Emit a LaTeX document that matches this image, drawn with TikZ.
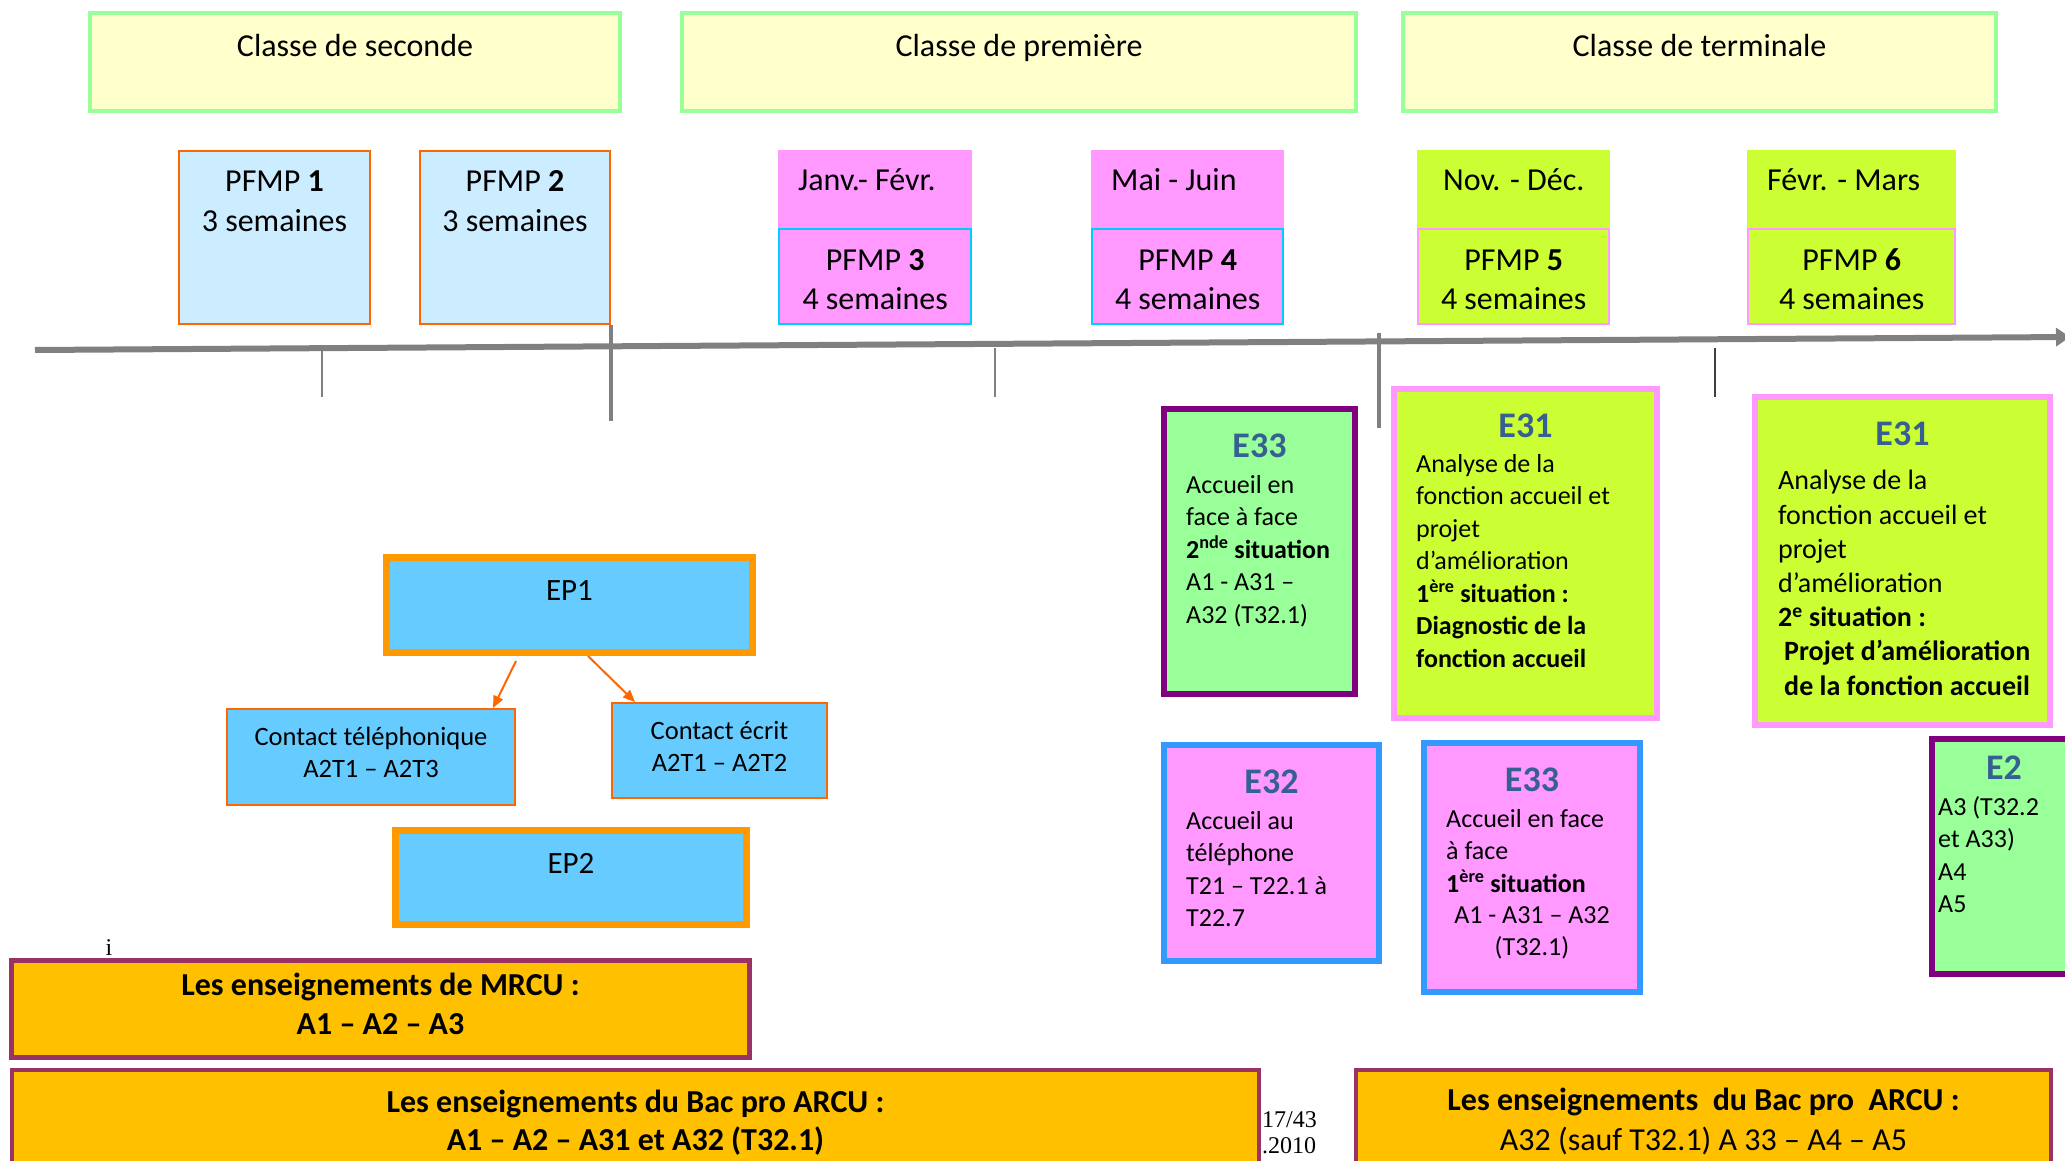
\documentclass[tikz,border=0pt]{standalone}
\usepackage{fontspec}
\setmainfont{Carlito}
\newfontfamily\pagefont{Liberation Serif}
\usetikzlibrary{arrows.meta, positioning}

\definecolor{classfill}{HTML}{FFFFCC}
\definecolor{classline}{HTML}{99FF99}
\definecolor{pfmpfill}{HTML}{CCECFF}
\definecolor{pfmpline}{HTML}{FF6600}
\definecolor{pinkfill}{HTML}{FF99FF}
\definecolor{cyanline}{HTML}{00CCFF}
\definecolor{limefill}{HTML}{CCFF33}
\definecolor{greenfill}{HTML}{99FF99}
\definecolor{purpleline}{HTML}{800080}
\definecolor{blueline}{HTML}{3399FF}
\definecolor{epfill}{HTML}{66CCFF}
\definecolor{epline}{HTML}{FF9900}
\definecolor{goldfill}{HTML}{FFC000}
\definecolor{maroonline}{HTML}{993366}
\definecolor{etitle}{HTML}{376092}
\definecolor{axisgray}{HTML}{808080}

\begin{document}
\begin{tikzpicture}[x=1pt, y=-1pt,
  box/.style={rectangle, anchor=north west, inner sep=0pt},
  class box/.style={box, draw=classline, fill=classfill, line width=4pt, minimum height=98pt},
  pfmp box/.style={box, draw=pfmpline, fill=pfmpfill, line width=2pt},
  month box/.style={box, fill=#1, minimum height=78pt},
  e box/.style={box, line width=6pt},
  ep box/.style={box, draw=epline, fill=epfill, line width=7pt},
  contact box/.style={box, draw=pfmpline, fill=epfill, line width=2pt},
  teach box/.style={box, draw=maroonline, fill=goldfill, line width=4pt},
  big text/.style={font=\fontsize{32}{39.5}\selectfont, inner sep=0pt, anchor=base, align=center},
  e title/.style={font=\fontsize{36}{44}\selectfont\bfseries, text=etitle, inner sep=0pt, anchor=base},
  e text/.style={font=\fontsize{26}{32.5}\selectfont, inner sep=0pt, anchor=base west, align=left},
  small text/.style={font=\fontsize{26.5}{32}\selectfont, inner sep=0pt, anchor=base, align=center},
  page text/.style={font=\pagefont\fontsize{24}{26}\selectfont, inner sep=0pt, anchor=base},
  axis line/.style={draw=axisgray, line width=6pt, -{Triangle[length=14pt,width=18pt]}},
  thin tick/.style={draw=axisgray, line width=1.5pt},
  thick tick/.style={draw=axisgray, line width=4.5pt},
  dark tick/.style={draw=black!75, line width=2pt},
  ep arrow/.style={draw=pfmpline, line width=2pt, -{Triangle[length=12pt,width=10pt]}}
]
  \useasboundingbox (0,0) rectangle (2065,1161);

  % school years
  \node[class box, minimum width=530pt] (seconde) at (88,11) {};
  \node[class box, minimum width=674pt] (premiere) at (680,11) {};
  \node[class box, minimum width=593pt] (terminale) at (1401,11) {};
  \node[big text] (seconde-t) at ([yshift=-46pt]seconde.north) {Classe de seconde};
  \node[big text] (premiere-t) at ([yshift=-46pt]premiere.north) {Classe de première};
  \node[big text] (terminale-t) at ([yshift=-46pt]terminale.north) {Classe de terminale};

  % PFMP periods
  \node[pfmp box, minimum width=191pt, minimum height=173pt] (pfmp1) at (178,150) {};
  \node[pfmp box, minimum width=190pt, minimum height=173pt] (pfmp2) at (419,150) {};
  \node[month box=pinkfill, minimum width=194pt] (janv) at (778,150) {};
  \node[month box=pinkfill, minimum width=193pt] (mai) at (1091,150) {};
  \node[month box=limefill, minimum width=193pt] (nov) at (1417,150) {};
  \node[month box=limefill, minimum width=209pt] (fevr) at (1747,150) {};
  \node[pfmp box, draw=cyanline, fill=pinkfill, minimum width=192pt, minimum height=95pt, below=0pt of janv] (pfmp3) {};
  \node[pfmp box, draw=cyanline, fill=pinkfill, minimum width=191pt, minimum height=95pt, below=0pt of mai] (pfmp4) {};
  \node[pfmp box, draw=pinkfill, fill=limefill, minimum width=191pt, minimum height=95pt, below=0pt of nov] (pfmp5) {};
  \node[pfmp box, draw=pinkfill, fill=limefill, minimum width=207pt, minimum height=95pt, below=0pt of fevr] (pfmp6) {};

  \node[big text] (pfmp1-t) at ([yshift=-81.5pt]pfmp1.north) {PFMP \textbf{1}\\3 semaines};
  \node[big text] (pfmp2-t) at ([yshift=-81.5pt]pfmp2.north) {PFMP \textbf{2}\\3 semaines};
  \node[big text, anchor=base west] (janv-t) at ([xshift=20pt,yshift=-41pt]janv.north west) {Janv.- Févr.};
  \node[big text, anchor=base west] (mai-t) at ([xshift=20pt,yshift=-41pt]mai.north west) {Mai - Juin};
  \node[big text, anchor=base west] (nov-t) at ([xshift=26pt,yshift=-41pt]nov.north west) {Nov. - Déc.};
  \node[big text, anchor=base west] (fevr-t) at ([xshift=20pt,yshift=-41pt]fevr.north west) {Févr. - Mars};
  \node[big text] (pfmp3-t) at ([yshift=-81.5pt]pfmp3.north) {PFMP \textbf{3}\\4 semaines};
  \node[big text] (pfmp4-t) at ([yshift=-81.5pt]pfmp4.north) {PFMP \textbf{4}\\4 semaines};
  \node[big text] (pfmp5-t) at ([yshift=-81.5pt]pfmp5.north) {PFMP \textbf{5}\\4 semaines};
  \node[big text] (pfmp6-t) at ([yshift=-81.5pt]pfmp6.north) {PFMP \textbf{6}\\4 semaines};

  % time axis
  \coordinate (axis-start) at (35,350);
  \coordinate (axis-end) at (2070,337);
  \draw[axis line] (axis-start) -- (axis-end);
  \foreach \x/\a/\b/\s in {322/349/397/thin tick, 611/325/421/thick tick, 995/348/397/thin tick,
                           1379/333/428/thick tick, 1715/348/397/dark tick}
    \draw[\s] (\x,\a) -- (\x,\b);

  % evaluations
  \node[e box, draw=purpleline, fill=greenfill, minimum width=191pt, minimum height=285pt] (e33a) at (1161,406) {};
  \node[e box, draw=pinkfill, fill=limefill, minimum width=263pt, minimum height=329pt] (e31a) at (1391,386) {};
  \node[e box, draw=pinkfill, fill=limefill, minimum width=295pt, minimum height=328pt] (e31b) at (1752,394) {};
  \node[e box, draw=blueline, fill=pinkfill, minimum width=215pt, minimum height=216pt] (e32) at (1161,742) {};
  \node[e box, draw=blueline, fill=pinkfill, minimum width=216pt, minimum height=249pt] (e33b) at (1421,740) {};
  \node[e box, draw=purpleline, fill=greenfill, minimum width=144pt, minimum height=235pt] (e2) at (1929,736) {};

  \node[e title] (e33a-t) at ([yshift=-51pt]e33a.north) {E33};
  \node[e title] (e31a-t) at ([yshift=-51pt]e31a.north) {E31};
  \node[e title] (e31b-t) at ([yshift=-51pt]e31b.north) {E31};
  \node[e title] (e32-t) at ([yshift=-51pt]e32.north) {E32};
  \node[e title] (e33b-t) at ([yshift=-51pt]e33b.north) {E33};
  \node[e title] (e2-t) at ([yshift=-43pt]e2.north) {E2};

  % multi-line texts sit on their last baseline
  \node[e text] (e33a-b) at ([xshift=25pt,yshift=-217pt]e33a.north west)
    {Accueil en\\face à face\\\textbf{2\textsuperscript{nde} situation}\\A1 - A31 –\\A32 (T32.1)};
  \node[e text] (e31a-b) at ([xshift=25pt,yshift=-281pt]e31a.north west)
    {Analyse de la\\fonction accueil et\\projet\\d’amélioration\\\textbf{1\textsuperscript{ère} situation :}\\\textbf{Diagnostic de la}\\\textbf{fonction accueil}};
  \node[e text, font=\fontsize{28}{34.2}\selectfont] (e31b-b) at ([xshift=26pt,yshift=-301pt]e31b.north west)
    {Analyse de la\\fonction accueil et\\projet\\d’amélioration\\\textbf{2\textsuperscript{e} situation :}\\\hspace*{6pt}\textbf{Projet d’amélioration}\\\hspace*{6pt}\textbf{de la fonction accueil}};
  \node[e text] (e32-b) at ([xshift=25pt,yshift=-184.5pt]e32.north west)
    {Accueil au\\téléphone\\T21 – T22.1 à\\T22.7};
  \node[e text] (e33b-b) at ([xshift=25pt,yshift=-152pt]e33b.north west)
    {Accueil en face\\à face\\\textbf{1\textsuperscript{ère} situation}};
  \node[e text, anchor=base, align=center] (e33b-c) at ([yshift=-215.5pt]e33b.north) {A1 - A31 – A32\\(T32.1)};
  \node[e text] (e2-b) at ([xshift=9pt,yshift=-176.5pt]e2.north west) {A3 (T32.2\\et A33)\\A4\\A5};

  % EP1 / EP2
  \node[ep box, minimum width=366pt, minimum height=95pt] (ep1) at (383,554) {};
  \node[ep box, minimum width=351pt, minimum height=94pt] (ep2) at (392,827) {};
  \node[contact box, minimum width=288pt, minimum height=96pt] (tel) at (226,708) {};
  \node[contact box, minimum width=215pt, minimum height=95pt] (ecrit) at (611,702) {};
  \node[big text, font=\fontsize{31}{38}\selectfont] (ep1-t) at ([yshift=-46pt]ep1.north) {EP1};
  \node[big text, font=\fontsize{31}{38}\selectfont] (ep2-t) at ([yshift=-46pt]ep2.north) {EP2};
  \node[small text] (tel-t) at ([yshift=-69pt]tel.north) {Contact téléphonique\\A2T1 – A2T3};
  \node[small text] (ecrit-t) at ([yshift=-69pt]ecrit.north) {Contact écrit\\A2T1 – A2T2};
  \draw[ep arrow] ([xshift=-53.5pt,yshift=-5pt]ep1.south) -- ([xshift=122pt]tel.north);
  \draw[ep arrow] ([xshift=18.5pt]ep1.south) -- ([xshift=-84.5pt]ecrit.north);

  % teaching
  \node[teach box, line width=5pt, minimum width=738pt, minimum height=97pt] (mrcu) at (9,958) {};
  \node[teach box, minimum width=1247pt, minimum height=150pt] (arcu-a) at (10,1068) {};
  \node[teach box, minimum width=695pt, minimum height=150pt] (arcu-b) at (1354,1068) {};
  \node[big text, font=\fontsize{32}{39}\selectfont\bfseries] (mrcu-t) at ([yshift=-76pt]mrcu.north)
    {Les enseignements de MRCU :\\A1 – A2 – A3};
  \node[big text, font=\fontsize{32}{38}\selectfont\bfseries] (arcu-a-t) at ([yshift=-82pt]arcu-a.north)
    {Les enseignements du Bac pro ARCU :\\A1 – A2 – A31 et A32 (T32.1)};
  \node[big text, font=\fontsize{32}{40}\selectfont] (arcu-b-t) at ([yshift=-82pt]arcu-b.north)
    {\textbf{Les enseignements\ \ du Bac pro\ \ ARCU :}\\A32 (sauf T32.1) A 33 – A4 – A5};

  \node[page text] (mark) at (109,955) {i};
  \node[page text, anchor=base west] (folio) at (1262,1127) {17/43};
  \node[page text, anchor=base west] (year) at (1262,1153) {.2010};
\end{tikzpicture}
\end{document}
